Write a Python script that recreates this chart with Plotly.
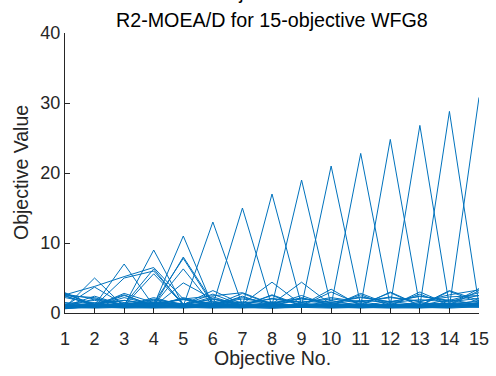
import plotly.graph_objects as go

objectives = list(range(1, 16))
x_tick_labels = [str(i) for i in objectives]
y_tick_values = [0, 10, 20, 30, 40]

# Solutions extreme in one objective
p01 = [2.9, 1.0, 0.8, 1.2, 0.9, 1.1, 0.8, 1.0, 0.9, 1.2, 0.8, 1.0, 0.9, 1.1, 1.4]
p02 = [0.8, 5.0, 0.9, 1.3, 1.0, 0.8, 1.2, 0.9, 1.1, 0.8, 1.0, 1.2, 0.9, 0.8, 1.2]
p03 = [1.0, 1.1, 7.0, 1.0, 1.2, 0.9, 1.0, 1.3, 0.8, 1.1, 0.9, 0.8, 1.2, 1.0, 1.3]
p04 = [0.7, 0.9, 1.0, 9.0, 1.1, 1.2, 0.9, 1.0, 1.2, 0.9, 1.1, 1.0, 0.8, 1.2, 1.1]
p05 = [0.9, 1.2, 0.8, 1.1, 11.0, 1.0, 1.3, 0.8, 1.0, 1.2, 0.9, 1.1, 1.0, 0.9, 1.5]
p06 = [1.1, 0.8, 1.2, 0.9, 1.0, 13.0, 1.1, 1.2, 0.9, 1.0, 1.3, 0.9, 1.1, 1.0, 1.2]
p07 = [0.8, 1.0, 0.9, 1.2, 0.8, 1.1, 15.0, 0.9, 1.2, 0.8, 1.0, 1.2, 0.9, 1.3, 1.0]
p08 = [1.2, 0.9, 1.1, 0.8, 1.2, 0.9, 1.0, 17.0, 1.1, 0.9, 1.2, 0.8, 1.0, 1.1, 1.3]
p09 = [0.9, 1.1, 1.0, 1.0, 0.9, 1.2, 0.8, 1.1, 19.0, 1.0, 0.9, 1.1, 1.2, 0.9, 1.1]
p10 = [1.0, 0.8, 1.2, 1.1, 1.0, 0.9, 1.2, 0.9, 1.0, 21.0, 1.1, 0.9, 1.0, 1.2, 1.4]
p11 = [0.8, 1.2, 0.9, 0.9, 1.1, 1.0, 0.9, 1.2, 0.9, 1.1, 22.8, 1.0, 1.1, 0.9, 1.2]
p12 = [1.1, 1.0, 0.8, 1.2, 0.9, 1.1, 1.0, 0.8, 1.1, 0.9, 1.0, 24.8, 0.9, 1.1, 1.0]
p13 = [0.9, 0.9, 1.1, 1.0, 1.2, 0.8, 1.1, 1.0, 0.9, 1.2, 0.9, 1.1, 26.8, 1.0, 1.3]
p14 = [1.0, 1.1, 1.0, 0.8, 1.0, 1.2, 0.9, 1.1, 1.2, 0.9, 1.1, 0.9, 1.0, 28.8, 1.1]
p15 = [0.8, 1.0, 1.2, 1.1, 0.9, 1.0, 1.1, 0.9, 1.0, 1.1, 0.9, 1.2, 1.1, 0.9, 30.8]

# Solutions with secondary bumps
b01 = [2.6, 3.8, 5.2, 6.5, 2.0, 1.2, 1.0, 1.1, 0.9, 1.2, 1.0, 1.1, 0.9, 1.2, 1.3]
b02 = [1.0, 3.7, 1.2, 6.3, 1.1, 1.4, 1.0, 1.2, 1.1, 1.0, 1.2, 1.0, 1.1, 1.0, 1.2]
b03 = [0.9, 1.0, 5.0, 6.0, 1.3, 1.1, 1.2, 0.9, 1.2, 1.1, 0.9, 1.2, 1.0, 1.1, 1.0]
b04 = [2.4, 1.1, 1.0, 5.6, 1.2, 1.0, 0.9, 1.3, 1.0, 0.9, 1.1, 1.0, 1.2, 0.9, 1.4]
b05 = [1.0, 0.9, 1.2, 1.0, 8.0, 1.5, 1.1, 1.0, 1.2, 1.0, 1.1, 1.2, 1.0, 1.1, 1.1]
b06 = [2.7, 1.2, 0.9, 1.4, 7.8, 1.2, 1.0, 1.1, 0.9, 1.1, 1.0, 0.9, 1.2, 1.0, 1.2]
b07 = [0.8, 1.0, 2.5, 1.1, 6.3, 1.0, 1.2, 0.9, 1.1, 1.2, 0.9, 1.1, 0.9, 1.2, 1.0]
b08 = [1.1, 1.3, 1.0, 0.9, 4.3, 2.0, 1.0, 1.2, 1.0, 0.9, 1.2, 1.0, 1.1, 1.0, 1.3]
b09 = [1.2, 1.0, 2.8, 1.5, 1.2, 3.2, 1.3, 4.4, 1.2, 1.4, 1.1, 1.2, 1.3, 1.1, 1.2]
b10 = [0.9, 1.2, 1.0, 1.3, 2.0, 2.5, 2.9, 1.3, 4.4, 1.2, 1.3, 1.1, 1.2, 1.4, 1.1]

# Zig-zag low solutions
z01 = [2.8, 1.2, 2.6, 1.0, 2.2, 1.1, 2.8, 1.2, 2.5, 1.0, 2.8, 1.2, 2.7, 1.1, 3.2]
z02 = [1.0, 2.4, 1.1, 2.0, 1.2, 2.7, 1.1, 2.5, 1.0, 3.0, 1.2, 2.9, 1.0, 3.1, 1.5]
z03 = [2.5, 1.0, 2.2, 1.2, 2.0, 1.0, 2.4, 1.0, 2.2, 1.1, 2.6, 1.0, 3.0, 1.2, 3.5]
z04 = [0.9, 2.0, 1.0, 2.2, 1.1, 2.3, 1.0, 2.6, 1.1, 3.4, 1.0, 3.0, 1.1, 3.2, 1.8]
z05 = [2.2, 1.4, 1.8, 1.3, 1.9, 1.4, 2.0, 1.5, 2.1, 1.5, 2.3, 1.6, 2.4, 1.7, 2.5]
z06 = [1.3, 1.8, 1.2, 1.9, 1.3, 2.0, 1.4, 2.0, 1.5, 2.2, 1.6, 2.3, 1.6, 2.6, 3.3]

# Low band solutions
l01 = [0.8, 0.7, 0.8, 0.7, 0.8, 0.7, 0.8, 0.7, 0.8, 0.7, 0.8, 0.7, 0.8, 0.7, 0.9]
l02 = [0.7, 0.9, 0.7, 0.8, 0.9, 0.8, 0.7, 0.9, 0.8, 0.9, 0.7, 0.9, 0.8, 0.8, 1.0]
l03 = [1.2, 0.8, 1.4, 0.9, 1.3, 1.0, 1.5, 0.9, 1.4, 1.0, 1.6, 1.0, 1.5, 1.1, 1.8]
l04 = [0.9, 1.5, 0.8, 1.6, 0.9, 1.7, 1.0, 1.6, 0.9, 1.8, 1.0, 1.7, 1.1, 1.9, 1.2]
l05 = [2.5, 2.2, 1.0, 1.8, 1.1, 2.0, 1.2, 2.1, 1.5, 2.0, 1.6, 2.2, 1.7, 2.3, 2.5]
l06 = [0.6, 1.0, 1.8, 1.2, 2.0, 1.3, 2.2, 1.4, 2.0, 1.5, 2.2, 1.6, 2.4, 1.8, 2.9]
l07 = [2.7, 2.0, 1.5, 1.2, 1.0, 0.9, 1.0, 1.1, 1.0, 1.2, 1.1, 1.3, 1.2, 1.4, 1.6]
l08 = [1.0, 1.3, 1.0, 1.3, 1.0, 1.3, 1.0, 1.3, 1.0, 1.3, 1.0, 1.3, 1.0, 1.3, 1.1]
l09 = [0.7, 0.8, 0.9, 0.8, 0.7, 0.9, 0.8, 0.7, 0.9, 0.8, 0.9, 0.8, 0.7, 0.9, 0.8]
l10 = [1.5, 1.1, 1.3, 1.5, 1.2, 1.4, 1.6, 1.3, 1.7, 1.4, 1.8, 1.5, 1.9, 1.6, 2.1]

solutions = [p01, p02, p03, p04, p05, p06, p07, p08, p09, p10, p11, p12, p13, p14, p15,
             b01, b02, b03, b04, b05, b06, b07, b08, b09, b10,
             z01, z02, z03, z04, z05, z06,
             l01, l02, l03, l04, l05, l06, l07, l08, l09, l10]

FONT = "Liberation Sans, Arial, Helvetica, sans-serif"
AX = "#262626"

fig = go.Figure()
for s in solutions:
    fig.add_trace(go.Scatter(x=objectives, y=s, mode="lines",
                             line=dict(color="#0072BD", width=1),
                             showlegend=False, hoverinfo="skip"))

fig.update_layout(
    width=496, height=376,
    margin=dict(l=65, r=17, t=33, b=63, autoexpand=False),
    paper_bgcolor="white", plot_bgcolor="white",
    font=dict(family=FONT, color=AX),
    annotations=[
        dict(text="R2-MOEA/D for 15-objective WFG8", xref="paper", yref="paper",
             x=0.5, y=(313 - 20) / 280, xanchor="center", yanchor="middle",
             showarrow=False, font=dict(size=19.7, color="black", family=FONT)),
        dict(text="Objective No.", xref="paper", yref="paper",
             x=0.5, y=(313 + 8.5) / 280, xanchor="center", yanchor="middle",
             showarrow=False, font=dict(size=19.7, color="black", family=FONT)),
        dict(text="Objective Value", xref="paper", yref="paper",
             x=(21 - 65) / 414, y=0.5, xanchor="center", yanchor="middle", textangle=-90,
             showarrow=False, font=dict(size=19.5, color=AX, family=FONT)),
        dict(text="Objective No.", xref="paper", yref="paper",
             x=0.5, y=(313 - 358) / 280, xanchor="center", yanchor="middle",
             showarrow=False, font=dict(size=19.5, color=AX, family=FONT)),
    ],
)
fig.update_xaxes(range=[1, 15], tickvals=objectives, ticktext=x_tick_labels,
                 showgrid=False, zeroline=False, showline=True, linecolor=AX, linewidth=1,
                 ticks="inside", ticklen=5, tickcolor=AX, ticklabelstandoff=9,
                 tickfont=dict(size=18, color=AX, family=FONT))
fig.update_yaxes(range=[0, 40], tickvals=y_tick_values,
                 showgrid=False, zeroline=False, showline=True, linecolor=AX, linewidth=1,
                 ticks="inside", ticklen=5, tickcolor=AX,
                 tickfont=dict(size=18, color=AX, family=FONT))

fig.write_html("out.html", config={"displayModeBar": False},
               post_script="document.body.style.margin='0px';")
